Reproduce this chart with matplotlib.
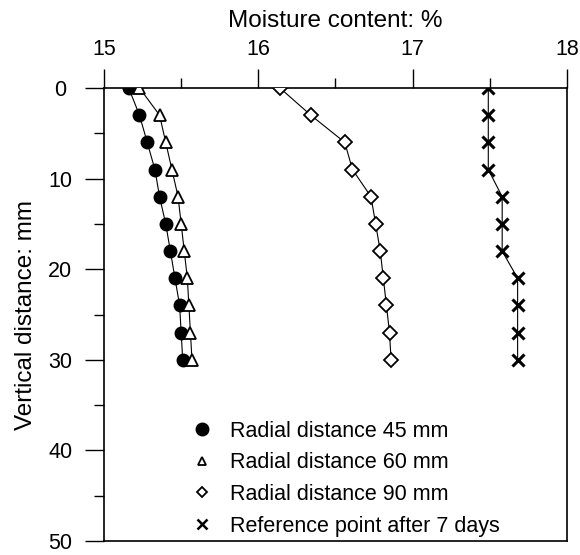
import matplotlib
matplotlib.use("Agg")
import matplotlib.pyplot as plt
from matplotlib.lines import Line2D

plt.rcParams['font.family'] = ['Liberation Sans', 'DejaVu Sans']

depth = [0, 3, 6, 9, 12, 15, 18, 21, 24, 27, 30]
r45 = [15.16, 15.23, 15.28, 15.33, 15.36, 15.40, 15.43, 15.46, 15.49, 15.50, 15.51]
r60 = [15.23, 15.36, 15.40, 15.44, 15.48, 15.50, 15.52, 15.54, 15.55, 15.56, 15.57]
r90 = [16.14, 16.34, 16.56, 16.61, 16.73, 16.76, 16.79, 16.81, 16.83, 16.85, 16.86]
ref7 = [17.49, 17.49, 17.49, 17.49, 17.58, 17.58, 17.58, 17.68, 17.68, 17.68, 17.68]

labels = ["Radial distance 45 mm", "Radial distance 60 mm",
          "Radial distance 90 mm", "Reference point after 7 days"]

fig = plt.figure(figsize=(5.8, 5.55), dpi=100)
ax = fig.add_axes([104/580, 1-541/555, (567-104)/580, (541-88)/555])

lw = 0.8
ax.plot(r45, depth, '-', color='black', lw=lw, marker='o', ms=9,
        mfc='black', mec='black', zorder=3)
ax.plot(r60, depth, '-', color='black', lw=lw, marker='^', ms=8.5,
        mfc='white', mec='black', mew=1.3, zorder=3)
ax.plot(r90, depth, '-', color='black', lw=lw, marker='D', ms=7,
        mfc='white', mec='black', mew=1.3, zorder=3)
ax.plot(ref7, depth, '-', color='black', lw=lw, marker='x', ms=9,
        mec='black', mew=2.2, zorder=3)

ax.set_xlim(15, 18)
ax.set_ylim(50, 0)
ax.set_xticks([15, 16, 17, 18])
ax.set_xticks([15.5, 16.5, 17.5], minor=True)
ax.set_yticks([0, 10, 20, 30, 40, 50])
ax.set_yticks([5, 15, 25, 35, 45], minor=True)

ax.xaxis.tick_top()
ax.xaxis.set_label_position('top')
ax.tick_params(axis='both', which='major', direction='out', length=13.5,
               width=1, labelsize=15.5, color='black')
ax.tick_params(axis='both', which='minor', direction='out', length=7.5, width=1)
ax.tick_params(axis='x', pad=7)
ax.tick_params(axis='y', pad=18)
for t in ax.get_yticklabels():
    t.set_horizontalalignment('center')

for s in ax.spines.values():
    s.set_linewidth(1.2)

ax.set_xlabel("Moisture content: %", fontsize=17.5, labelpad=8)
ax.set_ylabel("Vertical distance: mm", fontsize=17.5, labelpad=8)

handles = [
    Line2D([], [], ls='none', marker='o', ms=9, mfc='black', mec='black'),
    Line2D([], [], ls='none', marker='^', ms=6, mfc='white', mec='black', mew=1.3),
    Line2D([], [], ls='none', marker='D', ms=5, mfc='white', mec='black', mew=1.3),
    Line2D([], [], ls='none', marker='x', ms=6.5, mec='black', mew=1.8),
]
ax.legend(handles, labels, loc='upper left', bbox_to_anchor=(0.17, 0.285),
          frameon=False, fontsize=15.5, handlelength=1.0, handletextpad=0.8,
          labelspacing=0.5, borderaxespad=0)

fig.savefig("out.png", dpi=100)
